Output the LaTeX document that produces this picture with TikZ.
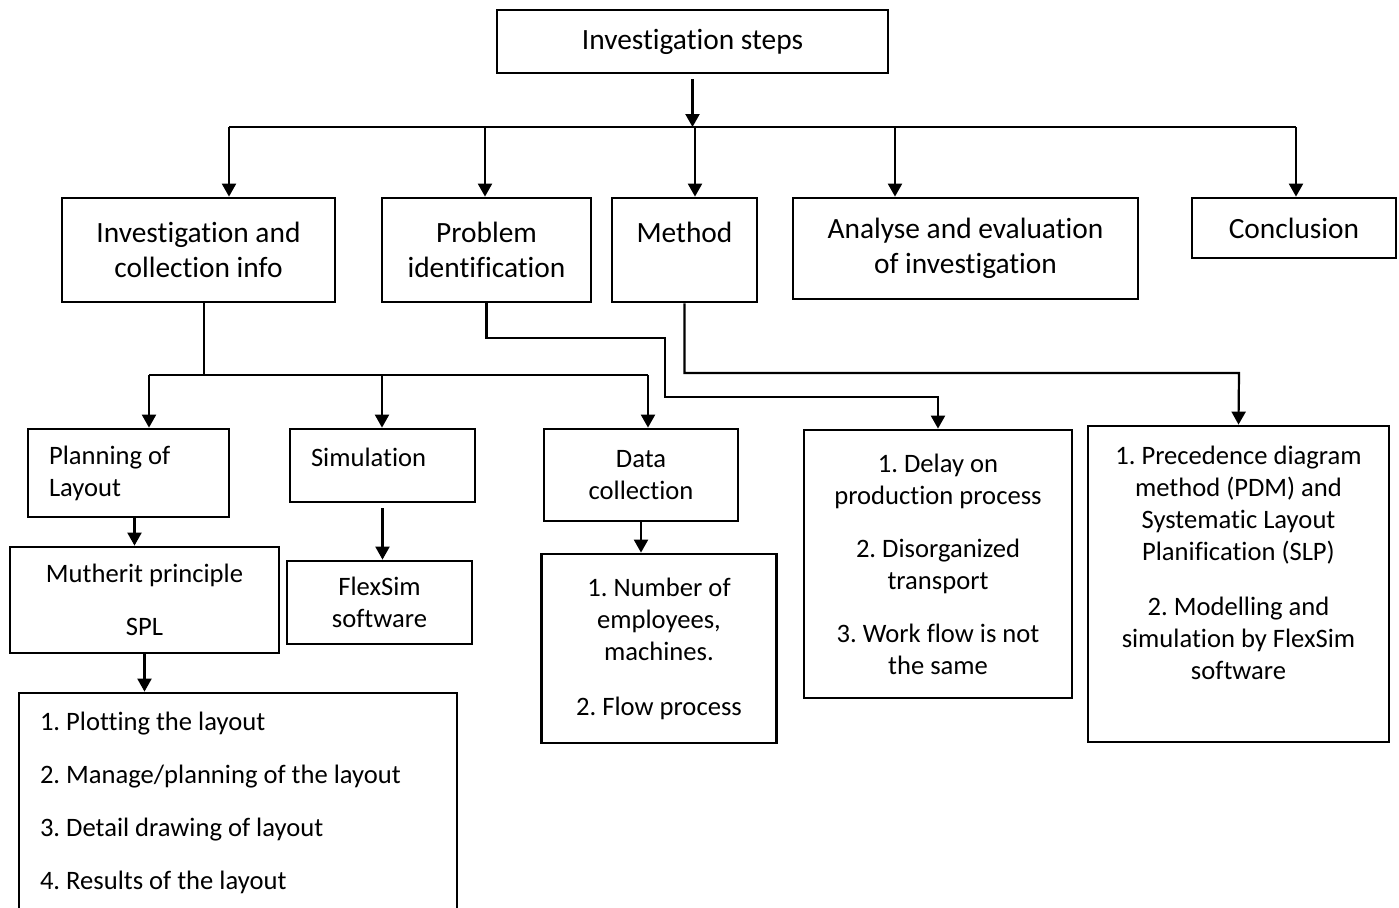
\documentclass[tikz,border=0pt]{standalone}
\usepackage{fontspec}
\setmainfont{Carlito}[Ligatures=NoCommon,RawFeature=-calt]
\usetikzlibrary{arrows.meta}
\frenchspacing
\tikzset{
  stepbox/.style={draw, line width=1.4pt, inner sep=0pt, align=center, font=\fontsize{14.7}{17.5}\selectfont},
  subbox/.style={draw, line width=1.4pt, inner sep=0pt, align=center, font=\fontsize{13.3}{16}\selectfont},
  leftbox/.style={subbox, align=flush left, inner xsep=10.5pt},
  arr/.style={line width=1.1pt, -{Triangle[width=7pt,length=6.5pt]}},
  ln/.style={line width=1.1pt}
}
\begin{document}
\begin{tikzpicture}[x=0.5pt,y=-0.5pt]
        \clip (0,0) rectangle (1399,907);
        % top and first level
        \node[stepbox, minimum width=195.5pt, minimum height=31.5pt] (top) at (692.5,41.5) {Investigation steps};
        \node[stepbox, minimum width=136.5pt, minimum height=52pt] (b1) at (198.5,250) {Investigation and\\collection info};
        \node[stepbox, minimum width=104.5pt, minimum height=52pt] (b2) at (486.5,250) {Problem\\identification};
        \node[stepbox, minimum width=72.5pt, minimum height=52pt] (b3) at (684.5,250) {Method\\\mbox{}};
        \node[stepbox, minimum width=172.5pt, minimum height=50.5pt] (b4) at (965.5,248.5) {Analyse and evaluation\\of investigation};
        \node[stepbox, minimum width=102pt, minimum height=30pt] (b5) at (1294,228) {Conclusion};
        % second level
        \node[leftbox, text width=79.5pt, minimum width=100.5pt, minimum height=44pt] (plan) at (128.5,473) {Planning of\\Layout};
        \node[leftbox, text width=71.5pt, minimum width=92.5pt, minimum height=36.5pt] (sim) at (382.5,465.5) {Simulation\\[-8pt]\mbox{}};
        \node[subbox, minimum width=97pt, minimum height=46pt] (data) at (641,475) {Data\\collection};
        \node[subbox, minimum width=134pt, minimum height=134pt] (delay) at (938,564) {1. Delay on\\production process\\[10.5pt]2. Disorganized\\transport\\[10.5pt]3. Work flow is not\\the same};
        \node[subbox, minimum width=150.5pt, minimum height=158pt] (prec) at (1238.5,584) {1. Precedence diagram\\method (PDM) and\\Systematic Layout\\Planification (SLP)\\[11.5pt]2. Modelling and\\simulation by FlexSim\\software\\[5pt]\mbox{}};
        % third level
        \node[subbox, minimum width=134.5pt, minimum height=53pt] (muth) at (144.5,600) {Mutherit principle\\[10.5pt]SPL};
        \node[subbox, minimum width=92.5pt, minimum height=41.5pt] (flex) at (379.5,602.5) {FlexSim\\software};
        \node[subbox, minimum width=117.5pt, minimum height=94.5pt] (num) at (659,648.5) {1. Number of\\employees,\\machines.\\[11.5pt]2. Flow process};
        \node[leftbox, text width=198pt, minimum width=219pt, minimum height=109.5pt] (plot) at (238,802.5) {1. Plotting the layout\\[10.5pt]2. Manage/planning of the layout\\[10.5pt]3. Detail drawing of layout\\[10.5pt]4. Results of the layout};
        % main bus
        \coordinate (bus1) at (229,127);
        \coordinate (bus2) at (485,127);
        \coordinate (bus3) at (695,127);
        \coordinate (bus4) at (895,127);
        \coordinate (bus5) at (1296,127);
        \draw[arr] ([yshift=-2.5pt]top.south) -- (top.south|-bus1);
        \draw[ln] (bus1) -- (bus5);
        \draw[arr] (bus1) -- (bus1|-b1.north);
        \draw[arr] (bus2) -- (bus2|-b2.north);
        \draw[arr] (bus3) -- (bus3|-b3.north);
        \draw[arr] (bus4) -- (bus4|-b4.north);
        \draw[arr] (bus5) -- (bus5|-b5.north);
        % investigation branch
        \coordinate (ja) at (204,375);
        \coordinate (jaL) at (149,375);
        \coordinate (jaM) at (382,375);
        \coordinate (jaR) at (648,375);
        \draw[ln] (ja|-b1.south) -- (ja);
        \draw[ln] (jaL) -- (jaR);
        \draw[arr] (jaL) -- (jaL|-plan.north);
        \draw[arr] (jaM) -- (jaM|-sim.north);
        \draw[arr] (jaR) -- (jaR|-data.north);
        % problem and method branches
        \coordinate (jb) at (665,338);
        \coordinate (jc) at (938,397);
        \coordinate (jd) at (1239,373);
        \draw[arr] (b2.south) |- (jb) |- (jc) -- (delay.north);
        \draw[arr] (b3.south) |- (jd) -- (prec.north);
        % lower arrows
        \draw[arr] ([xshift=3pt]plan.south) -- ([xshift=3pt]plan.south|-muth.north);
        \draw[arr] ([yshift=-2.5pt]sim.south) -- (sim.south|-flex.north);
        \draw[arr] (data.south) -- (data.south|-num.north);
        \draw[arr] (muth.south) -- (muth.south|-plot.north);
\end{tikzpicture}
\end{document}
